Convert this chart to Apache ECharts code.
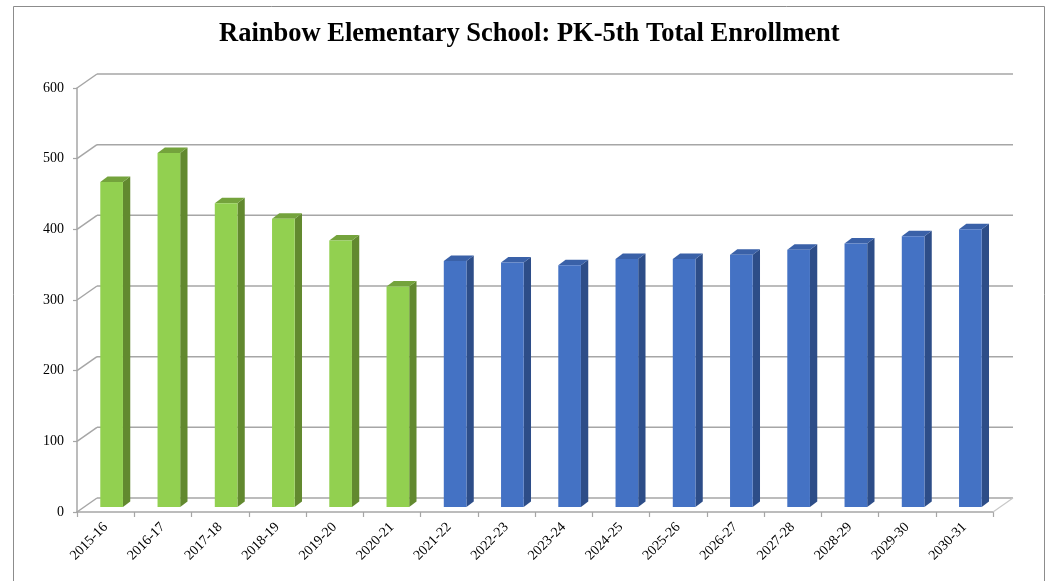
<!DOCTYPE html>
<html>
<head>
<meta charset="utf-8">
<script src="https://cdn.jsdelivr.net/npm/echarts@6/dist/echarts.min.js"></script>
<style>
html,body{margin:0;padding:0;background:#fff;}
#chart{width:1046px;height:581px;}
</style>
</head>
<body>
<div id="chart"></div>
<script>
var categories = ['2015-16','2016-17','2017-18','2018-19','2019-20','2020-21','2021-22','2022-23','2023-24','2024-25','2025-26','2026-27','2027-28','2028-29','2029-30','2030-31'];
var enrollment = [460, 501, 430, 408, 377, 312, 348, 346, 342, 351, 351, 357, 364, 373, 383, 393];
var actualCount = 6; // first six years are actual (green), rest projected (blue)
var yTicks = [0, 100, 200, 300, 400, 500, 600];

var FONT = '"Liberation Serif", "DejaVu Serif", serif';
var GRID = '#A6A6A6';
// oblique depth offsets (pixels)
var BACK_DX = 20, BACK_DY = -14;   // back wall
var BAR_DX = 6, BAR_DY = -5;       // bar plane
var DEPTH_X = 7.3, DEPTH_Y = -5.5; // bar thickness

var greenFace = {front:'#92D050', side:'#62892F', top:'#74A33C'};
var blueFace = {front:'#4472C4', side:'#2D4D88', top:'#3A61A8'};

var chart = echarts.init(document.getElementById('chart'));

function wallItem(params, api) {
  var cs = params.coordSys;
  var v = api.value(1);
  var p = api.coord([0, v]);
  var y = p[1];
  var x0 = cs.x, x1 = cs.x + cs.width;
  var style = {stroke: GRID, lineWidth: 1.5};
  var children = [
    {type:'line', shape:{x1:x0, y1:y, x2:x0+BACK_DX, y2:y+BACK_DY}, style:style},
    {type:'line', shape:{x1:x0+BACK_DX, y1:y+BACK_DY, x2:x1+BACK_DX, y2:y+BACK_DY}, style:style}
  ];
  if (v === 0) {
    children.push({type:'line', shape:{x1:x1, y1:y, x2:x1+BACK_DX, y2:y+BACK_DY}, style:{stroke:'#C8C8C8', lineWidth:1.2}});
  }
  return {type:'group', children:children};
}

function barItem(params, api) {
  var idx = api.value(0);
  var v = api.value(1);
  var top = api.coord([idx, v]);
  var base = api.coord([idx, 0]);
  var w = api.size([1, 0])[0] * 0.396;
  var x = top[0] + BAR_DX - w / 2;
  var yt = top[1] + BAR_DY;
  var yb = base[1] + BAR_DY;
  var c = idx < actualCount ? greenFace : blueFace;
  return {type:'group', children:[
    {type:'polygon', shape:{points:[[x+w, yt],[x+w+DEPTH_X, yt+DEPTH_Y],[x+w+DEPTH_X, yb+DEPTH_Y],[x+w, yb]]}, style:{fill:c.side}},
    {type:'polygon', shape:{points:[[x, yt],[x+DEPTH_X, yt+DEPTH_Y],[x+w+DEPTH_X, yt+DEPTH_Y],[x+w, yt]]}, style:{fill:c.top}},
    {type:'rect', shape:{x:x, y:yt, width:w, height:yb-yt}, style:{fill:c.front}}
  ]};
}

var option = {
  backgroundColor: '#fff',
  animation: false,
  title: {
    text: 'Rainbow Elementary School: PK-5th Total Enrollment',
    left: 214, top: 16,
    textStyle: {fontFamily: FONT, fontSize: 26.5, fontWeight: 'bold', color: '#000'}
  },
  graphic: [{
    type:'rect', shape:{x:13.5, y:6.5, width:1031, height:600}, style:{fill:'none', stroke:'#8C8C8C', lineWidth:1}, silent:true
  }],
  grid: {left: 77, right: 53, top: 88, bottom: 69},
  xAxis: {
    type: 'category',
    data: categories,
    axisLine: {show:true, lineStyle:{color:GRID, width:1.5}},
    axisTick: {show:true, length:5, lineStyle:{color:GRID, width:1.2}},
    axisLabel: {rotate:45, fontFamily:FONT, fontSize:14, color:'#000', margin:13, interval:0},
    splitLine: {show:false}
  },
  yAxis: {
    type: 'value', min: 0, max: 600, interval: 100,
    axisLine: {show:true, lineStyle:{color:GRID, width:1.5}},
    axisTick: {show:true, length:4, lineStyle:{color:GRID, width:1.2}},
    axisLabel: {fontFamily:FONT, fontSize:14, color:'#000', margin:13},
    splitLine: {show:false}
  },
  series: [
    {
      type: 'custom', name: 'wall', silent: true, z: 1,
      renderItem: wallItem,
      data: yTicks.map(function(v){ return [0, v]; }),
      encode: {x:0, y:1}
    },
    {
      type: 'custom', name: 'Enrollment', z: 3,
      renderItem: barItem,
      data: enrollment.map(function(v, i){ return [i, v]; }),
      encode: {x:0, y:1}
    }
  ]
};
chart.setOption(option);
</script>
</body>
</html>
